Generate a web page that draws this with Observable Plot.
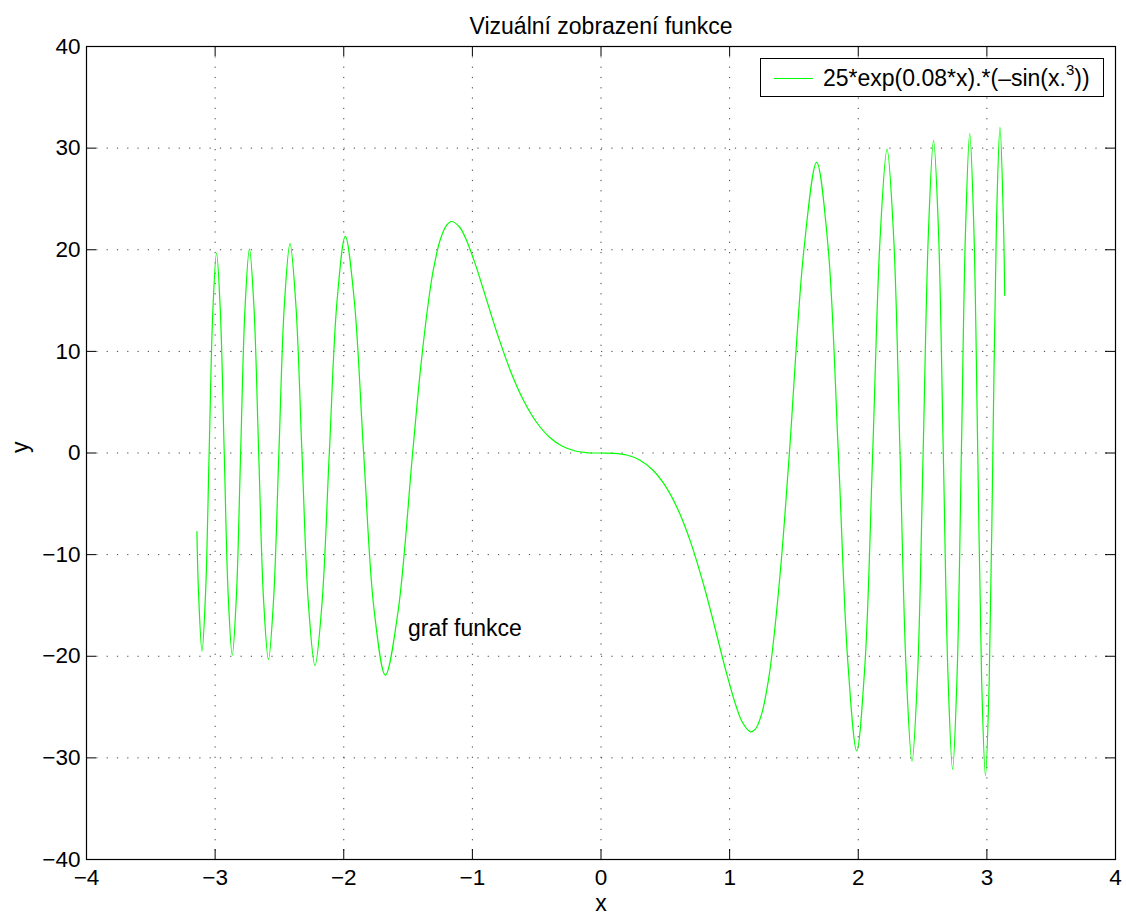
<!DOCTYPE html>
<html>
<head>
<meta charset="utf-8">
<script src="https://cdn.jsdelivr.net/npm/d3@7"></script>
<script src="https://cdn.jsdelivr.net/npm/@observablehq/plot@0.6"></script>
<style>
  body { margin: 0; background: #fff; }
  #wrap { position: relative; width: 1126px; height: 915px; font-family: "Liberation Sans", Arial, Helvetica, sans-serif; }
  #legend { position: absolute; left: 760px; top: 58px; width: 342px; height: 37px; border: 1px solid #000; background: #fff; }
  #legend .swatch { position: absolute; left: 13px; top: 19px; width: 39px; height: 1px; background: #00ff00; }
  #legend .label { position: absolute; left: 62px; top: 0; line-height: 39px; font-size: 23px; color: #000; white-space: nowrap; }
  #legend sup { font-size: 15px; line-height: 0; position: relative; top: -2px; }
</style>
</head>
<body>
<div id="wrap"></div>
<script>
// ---- data ----
const curveX = [-3.1416,-3.1289,-3.1019,-3.0744,-3.0465,-3.0180,-2.9890,-2.9594,-2.9292,-2.8983,-2.8668,-2.8346,-2.8017,-2.7679,-2.7333,-2.6978,-2.6613,-2.6239,-2.5853,-2.5455,-2.5044,-2.4620,-2.4180,-2.3724,-2.3248,-2.2754,-2.2237,-2.1694,-2.1123,-2.0519,-1.9878,-1.9192,-1.8453,-1.7649,-1.6765,-1.5777,-1.4646,-1.4,-1.3307,-1.3,-1.25,-1.2,-1.1624,-1.1,-1.05,-0.98,-0.9226,-0.86,-0.8,-0.7,-0.6,-0.5,-0.4,-0.3,-0.2,-0.1,0,
  0.1,0.2,0.3,0.4,0.5,0.6,0.7,0.8,0.86,0.9226,0.98,1.05,1.1,1.1624,1.2,1.25,1.3,1.3307,1.4,1.4646,1.5777,1.6765,1.7649,1.8453,1.9192,1.9878,2.0519,2.1123,2.1694,2.2237,2.2754,2.3248,2.3724,2.4180,2.4620,2.5044,2.5455,2.5853,2.6239,2.6613,2.6978,2.7333,2.7679,2.8017,2.8346,2.8668,2.8983,2.9292,2.9594,2.9890,3.0180,3.0465,3.0744,3.1019,3.1289,3.1384];
const curveY = [-7.74,-13.76,-19.51,-13.82,0,13.89,19.68,13.95,0,-14.02,-19.88,-14.09,0,14.17,20.09,14.25,0,-14.33,-20.33,-14.42,0,14.52,20.60,14.62,0,-14.74,-20.93,-14.86,0,15.00,21.32,15.16,0,-15.35,-21.86,-15.58,0,8.65,15.89,18.26,20.99,22.43,22.78,22.24,21.05,18.68,16.42,13.86,11.49,7.95,5.11,3.00,1.55,0.66,0.20,0.02,0,
  -0.03,-0.20,-0.69,-1.65,-3.24,-5.62,-8.89,-13.06,-15.91,-19.04,-21.86,-24.90,-26.52,-27.44,-27.18,-25.64,-22.47,-19.66,-10.83,0,20.05,28.59,20.36,0,-20.61,-29.31,-20.83,0,21.03,29.87,21.21,0,-21.37,-30.33,-21.52,0,21.67,30.74,21.81,0,-21.93,-31.11,-22.06,0,22.17,31.44,22.29,0,-22.40,-31.75,-22.51,0,22.61,32.04,22.71,15.52];

const xTicks = [-4,-3,-2,-1,0,1,2,3,4];
const yTicks = [-40,-30,-20,-10,0,10,20,30,40];
const xGridLines = [-3,-2,-1,0,1,2,3];
const yGridLines = [-30,-20,-10,0,10,20,30];

const titleText = "Vizuální zobrazení funkce";
const xLabel = "x";
const yLabel = "y";
const seriesName = "25*exp(0.08*x).*(–sin(x.<sup>3</sup>))";
const noteText = ["graf funkce"];
const noteX = [-1.5];
const noteY = [-17.3];

// ---- build ----
const rows = curveX.map((x, i) => ({x, y: curveY[i]}));
const notes = noteText.map((t, i) => ({t, x: noteX[i], y: noteY[i]}));
const fmt = d => d < 0 ? "\u2212" + Math.abs(d) : String(d);
const FONT = "'Liberation Sans', Arial, Helvetica, sans-serif";

const chart = Plot.plot({
  width: 1126,
  height: 915,
  marginLeft: 86,
  marginRight: 11,
  marginTop: 46,
  marginBottom: 56,
  x: {domain: [-4, 4]},
  y: {domain: [-40, 40]},
  style: {fontFamily: FONT, fontSize: "22px", color: "#000", background: "#fff", overflow: "visible"},
  marks: [
    Plot.gridX(xGridLines, {stroke: "#000", strokeOpacity: 0.75, strokeDasharray: "1.2,9.1"}),
    Plot.gridY(yGridLines, {stroke: "#000", strokeOpacity: 0.75, strokeDasharray: "1.2,9.1"}),
    Plot.line(rows, {x: "x", y: "y", stroke: "#00ff00", strokeWidth: 1.2, curve: "catmull-rom"}),
    Plot.frame({stroke: "#000", strokeWidth: 1.2}),
    Plot.tickX(xTicks, {x: d => d, insetTop: 803, stroke: "#000"}),
    Plot.tickX(xTicks, {x: d => d, insetBottom: 803, stroke: "#000"}),
    Plot.tickY(yTicks, {y: d => d, insetRight: 1019, stroke: "#000"}),
    Plot.tickY(yTicks, {y: d => d, insetLeft: 1019, stroke: "#000"}),
    Plot.axisX(xTicks, {anchor: "bottom", tickSize: 0, tickPadding: 10, fontSize: 22.5, tickFormat: fmt, label: null}),
    Plot.axisY(yTicks, {anchor: "left", tickSize: 0, tickPadding: 6, fontSize: 22.5, tickFormat: fmt, label: null}),
    Plot.text([titleText], {text: d => d, frameAnchor: "top", dy: -29, fontSize: 23}),
    Plot.text([xLabel], {text: d => d, frameAnchor: "bottom", dy: 51, fontSize: 23}),
    Plot.text([yLabel], {text: d => d, frameAnchor: "left", dx: -66, rotate: -90, fontSize: 23}),
    Plot.text(notes, {x: "x", y: "y", text: "t", textAnchor: "start", fontSize: 23})
  ]
});

const wrap = document.getElementById("wrap");
wrap.appendChild(chart);
const legend = document.createElement("div");
legend.id = "legend";
legend.innerHTML = `<div class="swatch"></div><div class="label">${seriesName}</div>`;
wrap.appendChild(legend);
</script>
</body>
</html>
